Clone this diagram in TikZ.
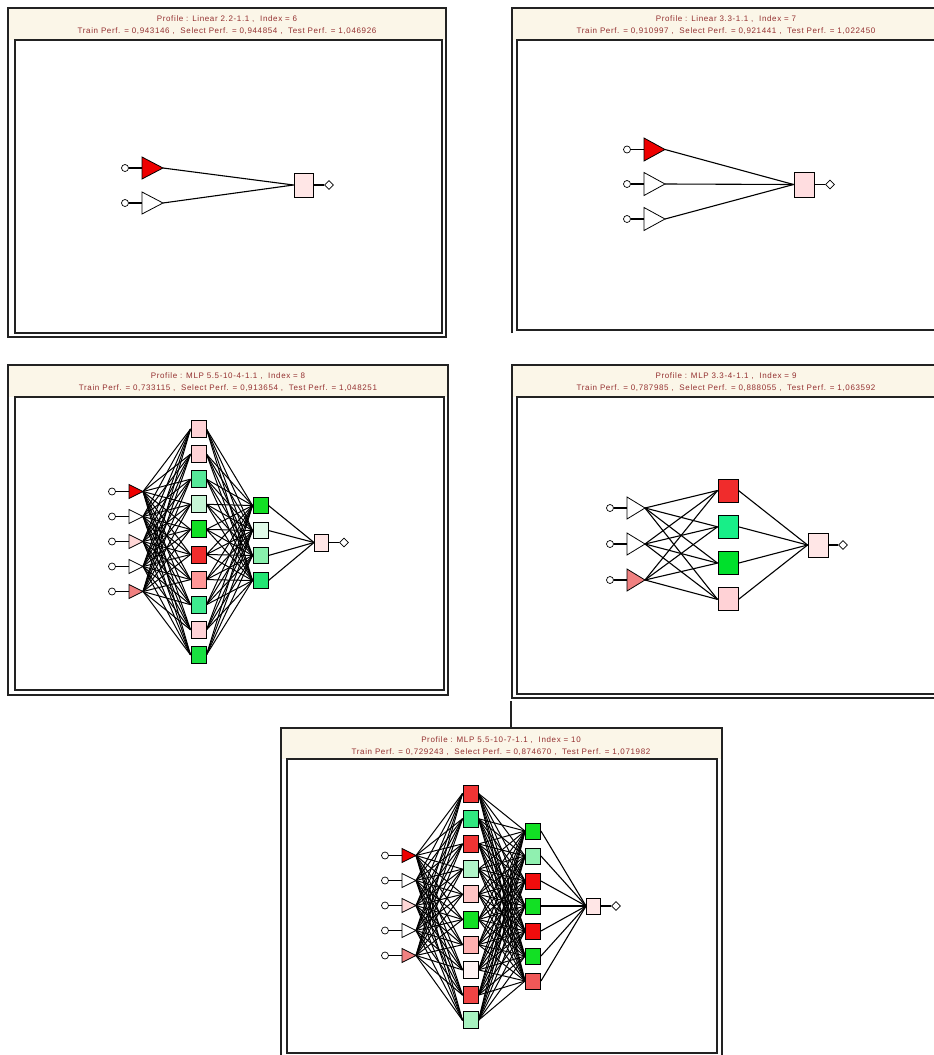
\documentclass[tikz,border=0pt]{standalone}
\usepackage{fontspec}
\setmainfont{Liberation Sans}
\newfontfamily\hdfont[LetterSpace=8]{Liberation Sans}
\usetikzlibrary{shapes.geometric}
\pgfdeclarelayer{frames}
\pgfdeclarelayer{wires}
\pgfsetlayers{frames,wires,main}

\definecolor{hdr}{HTML}{FBF6E8}
\definecolor{txt}{HTML}{943030}
\definecolor{frm}{HTML}{222222}
\definecolor{cPk}{HTML}{FFD2D6}
\definecolor{cPkL}{HTML}{FFE6E6}
\definecolor{cMg}{HTML}{55E898}
\definecolor{cMgB}{HTML}{3EEA8E}
\definecolor{cLg}{HTML}{C6F6D6}
\definecolor{cBg}{HTML}{12E024}
\definecolor{cBgB}{HTML}{18E040}
\definecolor{cRd}{HTML}{F02C2C}
\definecolor{cSal}{HTML}{FF9696}
\definecolor{cTR}{HTML}{EE0000}
\definecolor{cTPk}{HTML}{FFD6D6}
\definecolor{cTSal}{HTML}{F08080}
\definecolor{cVlg}{HTML}{E0FAE8}
\definecolor{cLg2}{HTML}{88F0AC}
\definecolor{cMg3}{HTML}{22E472}
\definecolor{cMg4}{HTML}{18EE88}
\definecolor{cBg4}{HTML}{00E02C}
\definecolor{cRd5}{HTML}{F03434}
\definecolor{cMg5}{HTML}{30E880}
\definecolor{cLg5}{HTML}{B0F4C8}
\definecolor{cPk5}{HTML}{FFC4C4}
\definecolor{cSal5}{HTML}{FFB0B0}
\definecolor{cWh5}{HTML}{FFF4F4}
\definecolor{cRd5b}{HTML}{F04444}
\definecolor{cLg5b}{HTML}{A8F2C0}
\definecolor{cLg6}{HTML}{90F0B0}
\definecolor{cRd6}{HTML}{F00C0C}
\definecolor{cRd6b}{HTML}{F05858}
\definecolor{cOut2}{HTML}{FFDDE0}

\tikzset{
  frame/.style={draw=frm, line width=1.3pt},
  hd/.style={text=txt, font=\hdfont\fontsize{8}{9}\selectfont, inner sep=0pt},
  sq/.style={rectangle, draw=black, line width=0.9pt, inner sep=0pt},
  incirc/.style={circle, draw=black, fill=white, line width=0.7pt, minimum size=7pt, inner sep=0pt},
  outdia/.style={diamond, draw=black, fill=white, line width=0.7pt, minimum size=9pt, inner sep=0pt},
  tri/.style={draw=black, line width=0.8pt, line join=miter},
  wire/.style={line width=1pt},
  twire/.style={line width=1.1pt},
}

% #1 name, #2 tip x, #3 y, #4 width, #5 half height, #6 fill
\newcommand\mkin[6]{%
  \coordinate (#1) at ({#2},{#3});
  \coordinate (#1b) at ({#2-#4},{#3});
  \node[incirc] (#1c) at ({#2-#4-17},{#3}) {};
  \draw[twire] (#1c) -- (#1b);
  \draw[tri,fill=#6] (#1) -- ({#2-#4},{#3-#5}) -- ({#2-#4},{#3+#5}) -- cycle;
}

\begin{document}
\begin{tikzpicture}[x=1pt,y=-1pt]
\useasboundingbox (0,0) rectangle (934,1055);
\clip (0,0) rectangle (934,1055);

\begin{pgfonlayer}{frames}
\fill[white] (0,0) rectangle (934,1055);
% panel 1
\fill[hdr] (8,8) rectangle (446,40);
\draw[frame] (8,8) rectangle (446,337);
\draw[frame,fill=white] (15,40) rectangle (442,333);
% panel 2
\fill[hdr] (512,8) rectangle (960,40);
\draw[frame] (512,333) -- (512,8) -- (960,8);
\draw[frame,fill=white] (517,40) rectangle (960,330);
% panel 3
\fill[hdr] (8,365) rectangle (448,397);
\draw[frame] (8,365) rectangle (448,695);
\draw[frame,fill=white] (15,397) rectangle (444,690);
% panel 4
\fill[hdr] (512,365) rectangle (960,397);
\draw[frame] (960,698) -- (512,698) -- (512,365) -- (960,365);
\draw[frame,fill=white] (517,397) rectangle (960,694);
\draw[frame] (511,701) -- (511,727);
% panel 5
\fill[hdr] (281,728) rectangle (722,759);
\draw[frame] (281,728) rectangle (722,1070);
\draw[frame,fill=white] (287,759) rectangle (717,1053);
\end{pgfonlayer}

% headers
\node[hd] (t1a) at (227,19.5) {Profile : Linear 2.2-1.1 ,\ \ Index = 6};
\node[hd] (t1b) at (227,31) {Train Perf. = 0,943146 ,\ \ Select Perf. = 0,944854 ,\ \ Test Perf. = 1,046926};
\node[hd] (t2a) at (726,19.5) {Profile : Linear 3.3-1.1 ,\ \ Index = 7};
\node[hd] (t2b) at (726,31) {Train Perf. = 0,910997 ,\ \ Select Perf. = 0,921441 ,\ \ Test Perf. = 1,022450};
\node[hd] (t3a) at (228,376) {Profile : MLP 5.5-10-4-1.1 ,\ \ Index = 8};
\node[hd] (t3b) at (228,388) {Train Perf. = 0,733115 ,\ \ Select Perf. = 0,913654 ,\ \ Test Perf. = 1,048251};
\node[hd] (t4a) at (726,376) {Profile : MLP 3.3-4-1.1 ,\ \ Index = 9};
\node[hd] (t4b) at (726,388) {Train Perf. = 0,787985 ,\ \ Select Perf. = 0,888055 ,\ \ Test Perf. = 1,063592};
\node[hd] (t5a) at (501,740) {Profile : MLP 5.5-10-7-1.1 ,\ \ Index = 10};
\node[hd] (t5b) at (501,752) {Train Perf. = 0,729243 ,\ \ Select Perf. = 0,874670 ,\ \ Test Perf. = 1,071982};

% ---------------- panel 1
\mkin{pai1}{163}{168}{21}{11}{cTR}
\mkin{pai2}{163}{203}{21}{11}{white}
\node[sq,fill=cPkL,minimum width=19pt,minimum height=24pt] (pao) at (303.5,185) {};
\node[outdia] (paod) at (329,185) {};
\draw[twire] (pao) -- (paod);
\begin{pgfonlayer}{wires}
\foreach \i in {1,2} \draw[twire] (pai\i) -- (pao.west);
\end{pgfonlayer}

% ---------------- panel 2
\mkin{pbi1}{665}{149.5}{21}{11.5}{cTR}
\mkin{pbi2}{665}{184}{21}{11.5}{white}
\mkin{pbi3}{665}{219}{21}{11.5}{white}
\node[sq,fill=cOut2,minimum width=20pt,minimum height=25pt] (pbo) at (804,184.5) {};
\node[outdia] (pbod) at (830,184.5) {};
\draw[twire] (pbo) -- (pbod);
\begin{pgfonlayer}{wires}
\foreach \i in {1,2,3} \draw[twire] (pbi\i) -- (pbo.west);
\end{pgfonlayer}

% ---------------- panel 3
\foreach \c [count=\i] in {cTR,white,cTPk,white,cTSal}
  {\mkin{pci\i}{143}{491.5+25*(\i-1)}{14}{7}{\c}}
\foreach \c [count=\i] in {cPk,cPk,cMg,cLg,cBg,cRd,cSal,cMgB,cPk,cBgB}
  {\node[sq,fill=\c,minimum width=15pt,minimum height=17pt] (pch\i) at (198.5,{429+25.1*(\i-1)}) {};}
\foreach \c [count=\i] in {cBg,cVlg,cLg2,cMg3}
  {\node[sq,fill=\c,minimum width=15pt,minimum height=16pt] (pcg\i) at (260.5,{505.5+25*(\i-1)}) {};}
\node[sq,fill=cPkL,minimum width=14pt,minimum height=17pt] (pco) at (321.5,542.5) {};
\node[outdia] (pcod) at (344,542.5) {};
\draw[twire] (pco) -- (pcod);
\begin{pgfonlayer}{wires}
\foreach \i in {1,...,5} \foreach \j in {1,...,10} \draw[wire] (pci\i) -- (pch\j.west);
\foreach \j in {1,...,10} \foreach \k in {1,...,4} \draw[wire] (pch\j.east) -- (pcg\k.west);
\foreach \k in {1,...,4} \draw[twire] (pcg\k.east) -- (pco.west);
\end{pgfonlayer}

% ---------------- panel 4
\foreach \c [count=\i] in {white,white,cTSal}
  {\mkin{pdi\i}{645}{508+36*(\i-1)}{18}{11}{\c}}
\foreach \c [count=\i] in {cRd,cMg4,cBg4,cPk}
  {\node[sq,fill=\c,minimum width=20pt,minimum height=23pt] (pdh\i) at (728,{490.5+36.3*(\i-1)}) {};}
\node[sq,fill=cPkL,minimum width=20pt,minimum height=24pt] (pdo) at (818,545) {};
\node[outdia] (pdod) at (843,545) {};
\draw[twire] (pdo) -- (pdod);
\begin{pgfonlayer}{wires}
\foreach \i in {1,2,3} \foreach \j in {1,...,4} \draw[twire] (pdi\i) -- (pdh\j.west);
\foreach \j in {1,...,4} \draw[twire] (pdh\j.east) -- (pdo.west);
\end{pgfonlayer}

% ---------------- panel 5
\foreach \c [count=\i] in {cTR,white,cTPk,white,cTSal}
  {\mkin{pei\i}{416}{855.5+25*(\i-1)}{14}{7}{\c}}
\foreach \c [count=\i] in {cRd5,cMg5,cRd5,cLg5,cPk5,cBg,cSal5,cWh5,cRd5b,cLg5b}
  {\node[sq,fill=\c,minimum width=15pt,minimum height=17pt] (peh\i) at (470.5,{793.5+25.2*(\i-1)}) {};}
\foreach \c [count=\i] in {cBg,cLg6,cRd6,cBg,cRd6,cBg,cRd6b}
  {\node[sq,fill=\c,minimum width=15pt,minimum height=16pt] (peg\i) at (533,{831+25*(\i-1)}) {};}
\node[sq,fill=cPkL,minimum width=14pt,minimum height=16pt] (peo) at (593.5,906) {};
\node[outdia] (peod) at (616,906) {};
\draw[twire] (peo) -- (peod);
\begin{pgfonlayer}{wires}
\foreach \i in {1,...,5} \foreach \j in {1,...,10} \draw[wire] (pei\i) -- (peh\j.west);
\foreach \j in {1,...,10} \foreach \k in {1,...,7} \draw[wire] (peh\j.east) -- (peg\k.west);
\foreach \k in {1,...,7} \draw[twire] (peg\k.east) -- (peo.west);
\end{pgfonlayer}

\end{tikzpicture}
\end{document}
